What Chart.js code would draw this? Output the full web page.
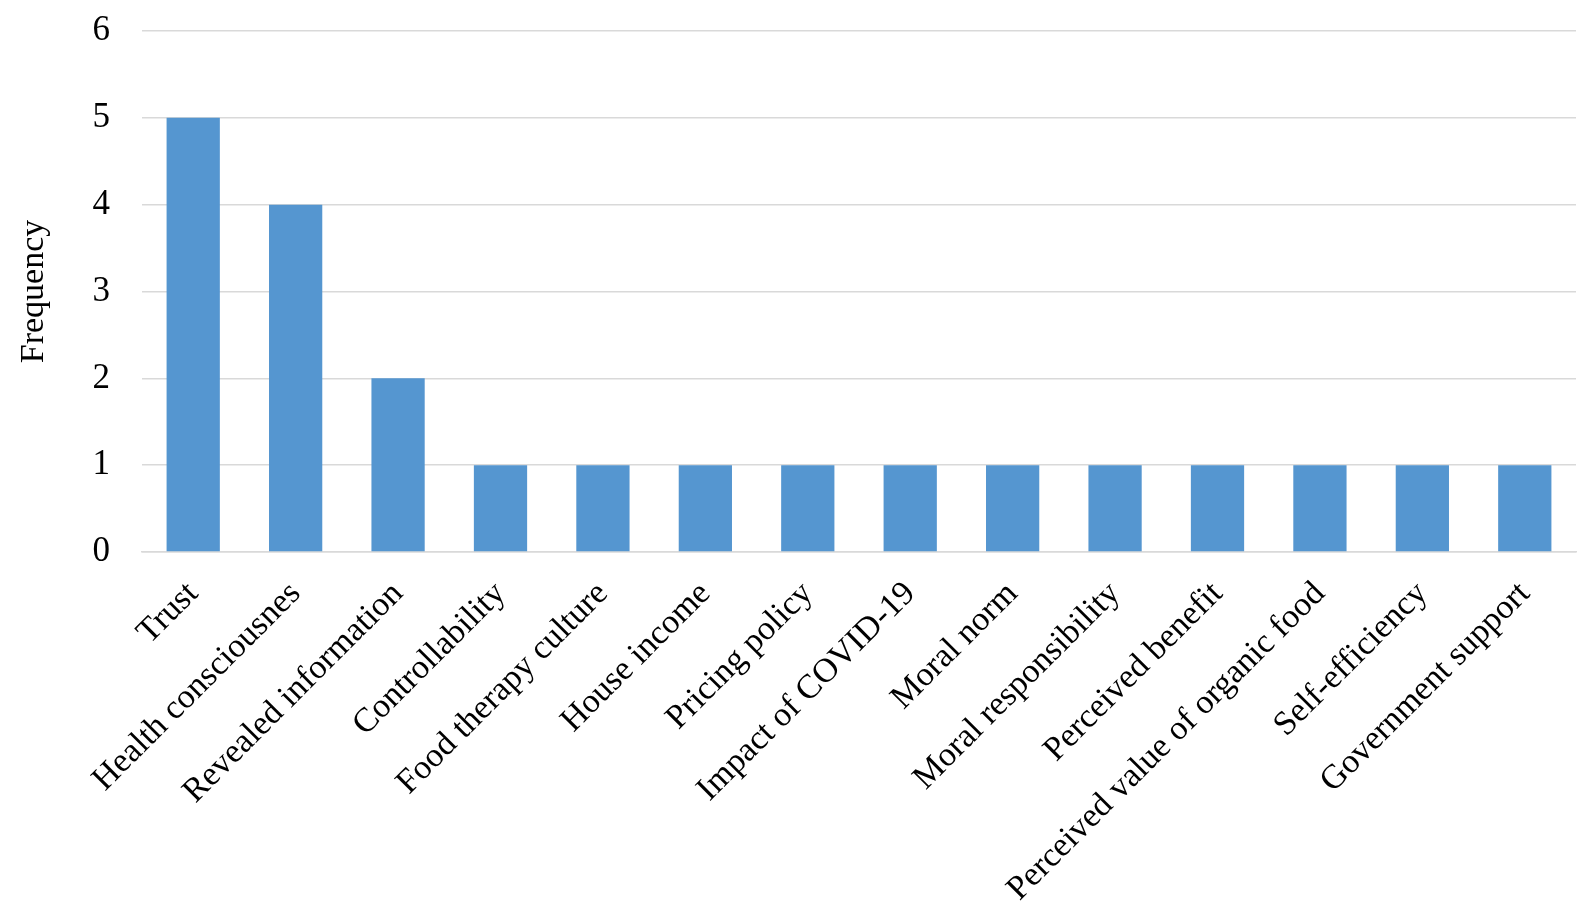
<!DOCTYPE html>
<html>
<head>
<meta charset="utf-8">
<script src="https://cdn.jsdelivr.net/npm/chart.js@4"></script>
<style>
  html, body { margin: 0; padding: 0; background: #fff; }
  #wrap { width: 1594px; height: 924px; }
</style>
</head>
<body>
<div id="wrap"><canvas id="chart"></canvas></div>
<script>
const factors = ["Trust", "Health consciousnes", "Revealed information", "Controllability",
  "Food therapy culture", "House income", "Pricing policy", "Impact of COVID-19",
  "Moral norm", "Moral responsibility", "Perceived benefit",
  "Perceived value of organic food", "Self-efficiency", "Government support"];
const frequency = [5, 4, 2, 1, 1, 1, 1, 1, 1, 1, 1, 1, 1, 1];
const yTicks = [0, 1, 2, 3, 4, 5, 6];

const serif = "'Liberation Serif', 'Times New Roman', serif";

new Chart(document.getElementById('chart'), {
  type: 'bar',
  data: {
    labels: factors,
    datasets: [{
      label: 'Frequency',
      data: frequency,
      backgroundColor: '#5596d0',
      borderWidth: 0,
      categoryPercentage: 1,
      barPercentage: 0.52
    }]
  },
  options: {
    responsive: true,
    maintainAspectRatio: false,
    animation: false,
    layout: { padding: { top: 0, right: 18, left: 0, bottom: 0 } },
    plugins: {
      legend: { display: false },
      tooltip: { enabled: false }
    },
    scales: {
      x: {
        grid: { display: false, drawTicks: false },
        border: { display: true, color: '#d9d9d9', width: 1.5 },
        ticks: {
          color: '#000',
          font: { family: serif, size: 34 },
          minRotation: 45,
          maxRotation: 45,
          autoSkip: false,
          padding: 22
        },
        afterFit(scale) { scale.height = 372; }
      },
      y: {
        min: 0,
        max: 6,
        afterBuildTicks(scale) { scale.ticks = yTicks.map(v => ({ value: v })); },
        grid: { color: '#d9d9d9', lineWidth: 1.5, drawTicks: false },
        border: { display: false },
        ticks: {
          color: '#000',
          font: { family: serif, size: 35 },
          padding: 32
        },
        title: {
          display: true,
          text: 'Frequency',
          color: '#000',
          font: { family: serif, size: 34 },
          padding: { top: 14, bottom: 12 }
        },
        afterFit(scale) {
          scale.width = 142;
          scale.paddingTop = 31;
          scale.paddingBottom = 0;
        }
      }
    }
  }
});
</script>
</body>
</html>
